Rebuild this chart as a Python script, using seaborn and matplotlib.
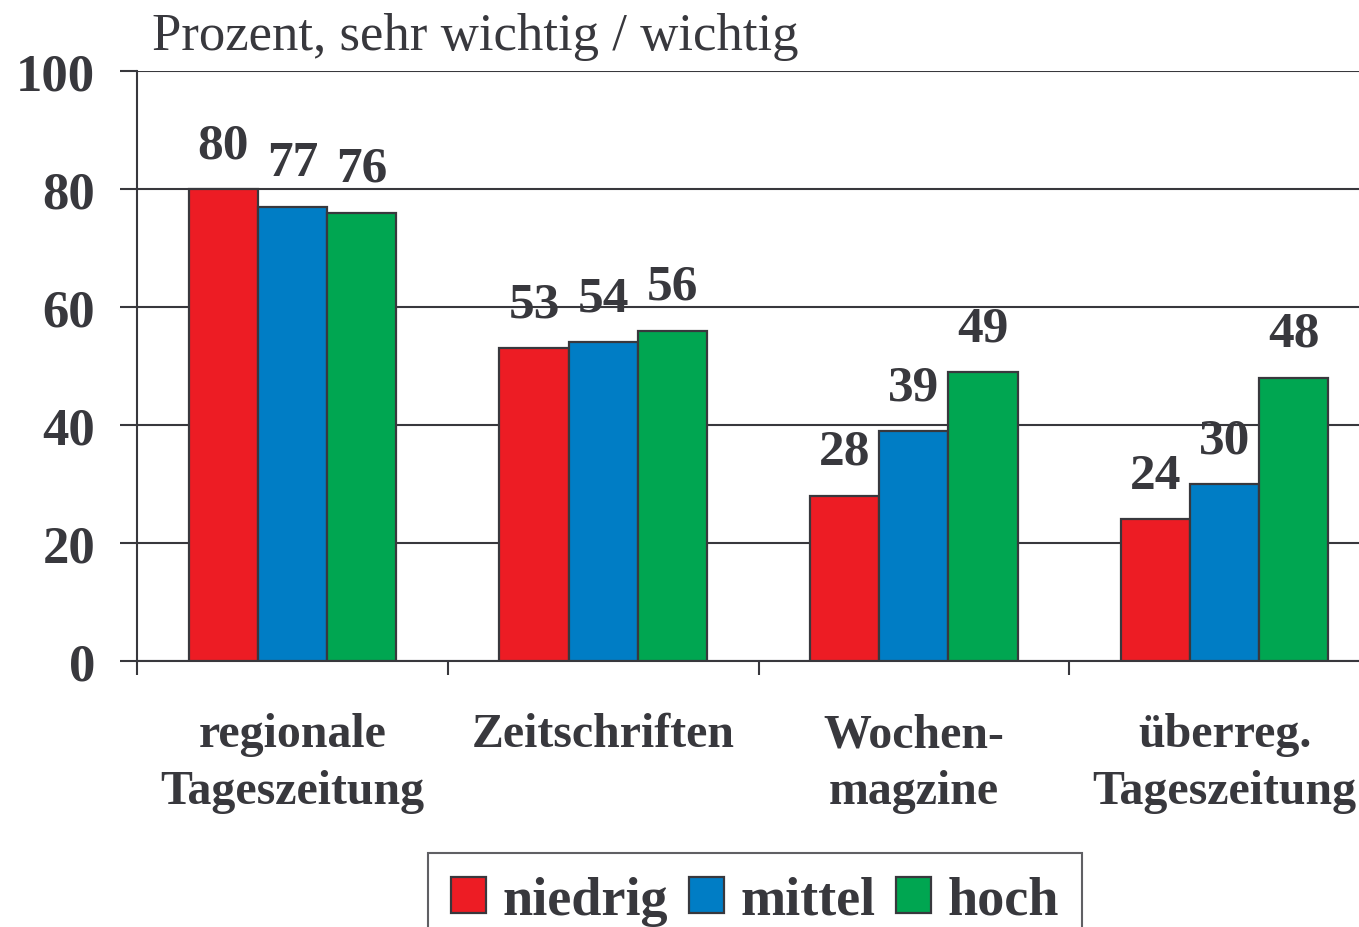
import pandas as pd
import matplotlib
matplotlib.use("Agg")
import matplotlib.pyplot as plt
import seaborn as sns

# data
categories = ["regionale\nTageszeitung", "Zeitschriften", "Wochen-\nmagzine", "überreg.\nTageszeitung"]
groups = ["niedrig", "mittel", "hoch"]
niedrig = [80, 53, 28, 24]
mittel = [77, 54, 39, 30]
hoch = [76, 56, 49, 48]

colors = ["#ED1C24", "#007DC5", "#00A651"]
ink = "#38383d"

df = pd.DataFrame({
    "Kategorie": categories * 3,
    "Gruppe": [g for g in groups for _ in categories],
    "Prozent": niedrig + mittel + hoch,
})

sns.set_style("white")
plt.rcParams["font.family"] = ["Liberation Serif", "DejaVu Serif"]
plt.rcParams["text.color"] = ink

fig = plt.figure(figsize=(13.59, 9.28), dpi=100)
ax = fig.add_axes([137 / 1359, 266 / 928, 1243 / 1359, 590 / 928])

sns.barplot(data=df, x="Kategorie", y="Prozent", hue="Gruppe", order=categories,
            hue_order=groups, palette=colors, width=0.667, saturation=1,
            edgecolor=ink, linewidth=1.6, ax=ax, legend=True, zorder=3)

ax.set_ylim(0, 100)
ax.set_xlim(-0.5, 3.5)
ax.set_yticks([0, 20, 40, 60, 80, 100])
ax.set_yticklabels(["0", "20", "40", "60", "80", "100"], fontsize=38,
                   fontweight="bold", color=ink)
ax.tick_params(axis="y", direction="out", length=12, width=1.5, color=ink, pad=18, left=True)
ax.grid(axis="y", color=ink, linewidth=1.5, zorder=0)
ax.set_axisbelow(True)

# category separators as major ticks, names as minor ticks
ax.set_xticks([-0.5, 0.5, 1.5, 2.5, 3.5])
ax.set_xticklabels([])
ax.set_xticks([0, 1, 2, 3], minor=True)
ax.set_xticklabels(categories, minor=True, fontsize=34.5, fontweight="bold",
                   color=ink, linespacing=1.36)
ax.tick_params(axis="x", which="major", direction="out", length=10, width=1.5,
               color=ink, bottom=True)
ax.tick_params(axis="x", which="minor", length=0, pad=37)

for side in ["top", "right"]:
    ax.spines[side].set_visible(False)
for side in ["left", "bottom"]:
    ax.spines[side].set_color(ink)
    ax.spines[side].set_linewidth(1.5)

ax.set_xlabel("")
ax.set_ylabel("")

for cont in ax.containers:
    for bar in cont:
        h = bar.get_height()
        ax.annotate(f"{h:.0f}", (bar.get_x() + bar.get_width() / 2, h),
                    xytext=(0, 15), textcoords="offset points", ha="center",
                    va="bottom", fontsize=37, fontweight="bold", color=ink,
                    zorder=5)

fig.text(152 / 1359, 878 / 928, "Prozent, sehr wichtig / wichtig",
         fontsize=38, color=ink, va="baseline", ha="left")

ax.get_legend().remove()
leg = fig.legend(*ax.get_legend_handles_labels(), loc="upper center",
                 bbox_to_anchor=(755 / 1359, 74 / 928), ncol=3,
                 prop={"size": 39, "weight": "bold"}, frameon=True, fancybox=False,
                 edgecolor=ink, handlelength=0.65, handleheight=0.65,
                 handletextpad=0.3, columnspacing=0.38, borderpad=0.42,
                 borderaxespad=0)
leg.get_frame().set_linewidth(1.5)
for t in leg.get_texts():
    t.set_color(ink)

fig.savefig("out.png", dpi=100)
